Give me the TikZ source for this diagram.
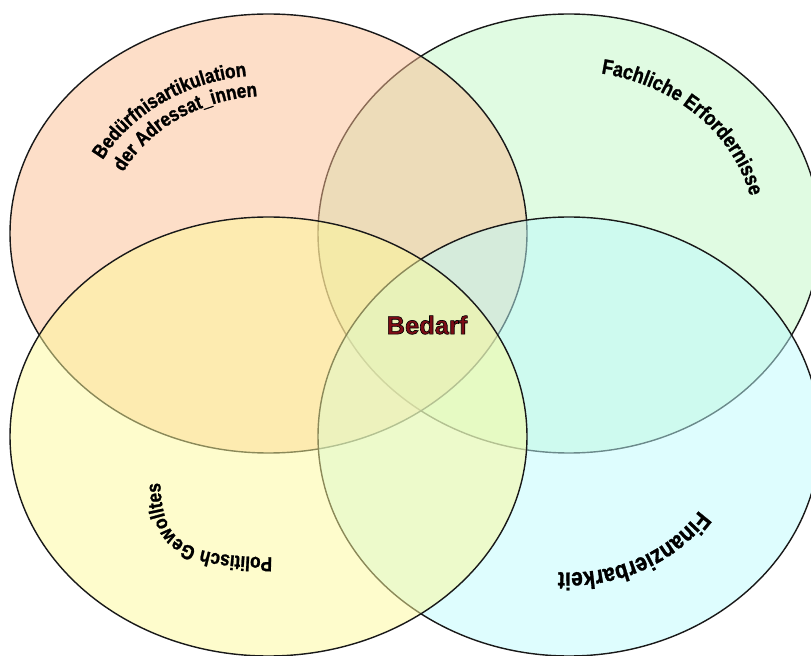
\documentclass[tikz,border=0pt]{standalone}
\usepackage{fontspec}
\setmainfont{Liberation Sans}
\newfontfamily\arcfont[FakeStretch=0.85,FakeBold=1.2]{Liberation Sans Bold}
\usetikzlibrary{decorations.text}
\definecolor{peach}{RGB}{251,189,145}
\definecolor{mint}{RGB}{193,247,197}
\definecolor{lemon}{RGB}{253,249,153}
\definecolor{aqua}{RGB}{189,251,253}
\definecolor{bedarfred}{RGB}{125,12,22}

\begin{document}
\begin{tikzpicture}[line cap=round,
  set/.style={draw=black!90,line width=0.8pt,fill=#1,fill opacity=0.5},
  arctext/.style={decorate,decoration={text along path,text align=center,text={#1}}}]
\useasboundingbox (0,0) rectangle (16.22,13.1);
\clip (0,0) rectangle (16.22,13.1);
% the four sets
\draw[set=mint] (11.38,8.43) ellipse[x radius=5.02,y radius=4.39];
\draw[set=peach] (5.37,8.43) ellipse[x radius=5.17,y radius=4.39];
\draw[set=aqua] (11.38,4.37) ellipse[x radius=5.02,y radius=4.39];
\draw[set=lemon] (5.37,4.37) ellipse[x radius=5.17,y radius=4.39];
% curved labels
\path[arctext={|\arcfont\fontsize{11.5}{13}\selectfont|Bedürfnisartikulation}]
  (5.37,8.43) ++(160:3.74 and 3.17) arc[start angle=160,end angle=90,x radius=3.74,y radius=3.17];
\path[arctext={|\arcfont\fontsize{11.5}{13}\selectfont|der Adressat{\_}innen}]
  (5.37,8.43) ++(158:3.24 and 2.75) arc[start angle=158,end angle=90,x radius=3.24,y radius=2.75];
\path[arctext={|\arcfont\fontsize{12}{14}\selectfont|Fachliche Erfordernisse}]
  (11.38,8.43) ++(82:3.72 and 3.25) arc[start angle=82,end angle=11,x radius=3.72,y radius=3.25];
\path[arctext={|\arcfont\fontsize{11.5}{13}\selectfont|Politisch Gewolltes}]
  (5.8,1.95) .. controls (3.45,1.95) and (3.2,2.25) .. (3.2,3.8);
\path[arctext={|\arcfont\fontsize{14}{16}\selectfont|Finanzierbarkeit}]
  (11.38,4.37) ++(337:3.1 and 2.72) arc[start angle=337,end angle=257,x radius=3.1,y radius=2.72];
% centre
\node[text=bedarfred,font=\bfseries\fontsize{14.5}{16}\selectfont] (bedarf) at (8.54,6.6)
  {\special{pdf:literal direct 2 Tr 0.35 w 0 G}Bedarf\special{pdf:literal direct 0 Tr}};
\end{tikzpicture}
\end{document}
